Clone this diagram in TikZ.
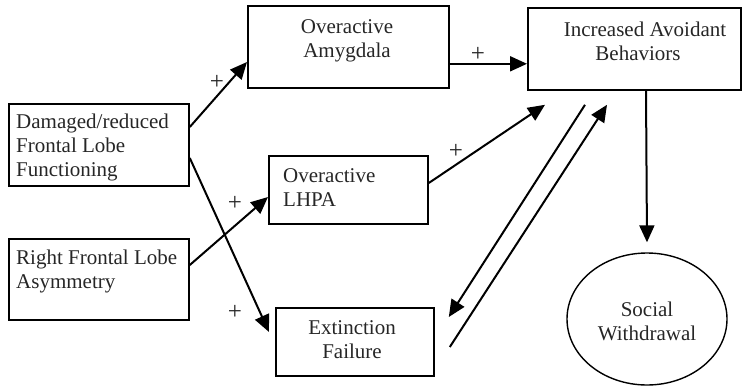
\documentclass[tikz,border=0pt]{standalone}
\usepackage{fontspec}
\setmainfont{Liberation Serif}
\usetikzlibrary{arrows.meta,shapes.geometric,calc}

\begin{document}
\begin{tikzpicture}[x=1pt,y=-1pt,
  box/.style={draw, line width=1.8pt, rectangle, anchor=north west, inner sep=0pt},
  txt/.style={inner sep=0pt, font=\fontsize{21}{24}\selectfont, text=black!85},
  plus/.style={inner sep=0pt, font=\fontsize{25}{25}\selectfont, text=black!85},
  arr/.style={line width=2pt, -{Triangle[length=17pt,width=15pt]}},
]
\useasboundingbox (0,0) rectangle (742,386);

% boxes
\node[box, minimum width=180pt, minimum height=82pt] (dmg) at (8,103) {};
\node[box, minimum width=180pt, minimum height=81pt] (rfl) at (8,238) {};
\node[box, minimum width=201pt, minimum height=82pt] (amy) at (247,5) {};
\node[box, minimum width=159pt, minimum height=68pt] (lhpa) at (268,155) {};
\node[box, minimum width=158pt, minimum height=68pt] (ext) at (275,307) {};
\node[box, minimum width=213pt, minimum height=82pt] (avo) at (527,7) {};
\node[draw, line width=1.4pt, ellipse, minimum width=160pt, minimum height=132pt] (soc) at (647,319) {};

% texts
\node[txt, anchor=west, align=left] (tdmg) at (16,147) {Damaged/reduced\\Frontal Lobe\\Functioning};
\node[txt, anchor=west, align=left] (trfl) at (16,271) {Right Frontal Lobe\\Asymmetry};
\node[txt, align=center] (tamy) at (347,41) {Overactive\\Amygdala};
\node[txt, anchor=west, align=left] (tlhpa) at (283,188) {Overactive\\LHPA};
\node[txt, align=center] (tavo) at (645,41) {Increased Avoidant\\Behaviors\hspace*{14pt}};
\node[txt, align=center] (text) at (352,339.5) {Extinction\\Failure};
\node[txt, align=center] (tsoc) at (647,321) {Social\\Withdrawal};

% connectors
\draw[arr] ($(dmg.north east)+(0,24)$) -- ($(amy.north west)+(0,57)$);
\draw[arr] ($(amy.south east)+(0,-25)$) -- ($(avo.south west)+(0,-27)$);
\draw[arr] ($(lhpa.north east)+(0,28)$) -- ($(avo.south west)+(18,14)$);
\draw[arr] ($(rfl.north east)+(0,27)$) -- ($(lhpa.north west)+(0,42)$);
\draw[arr] ($(dmg.north east)+(0,55)$) -- ($(ext.north west)+(-6,25)$);
\draw[arr] ($(avo.south west)+(58,14)$) -- ($(ext.north east)+(14,10)$);
\draw[arr] ($(ext.north east)+(15,40)$) -- ($(avo.south west)+(80,14)$);
\draw[arr] ($(avo.south west)+(119,0)$) -- ($(soc.north)+(0,-10)$);

% signs
\node[plus] (p1) at (217,82) {+};
\node[plus] (p2) at (478,54) {+};
\node[plus] (p3) at (456,151) {+};
\node[plus] (p4) at (235,203) {+};
\node[plus] (p5) at (235,312) {+};
\end{tikzpicture}
\end{document}
